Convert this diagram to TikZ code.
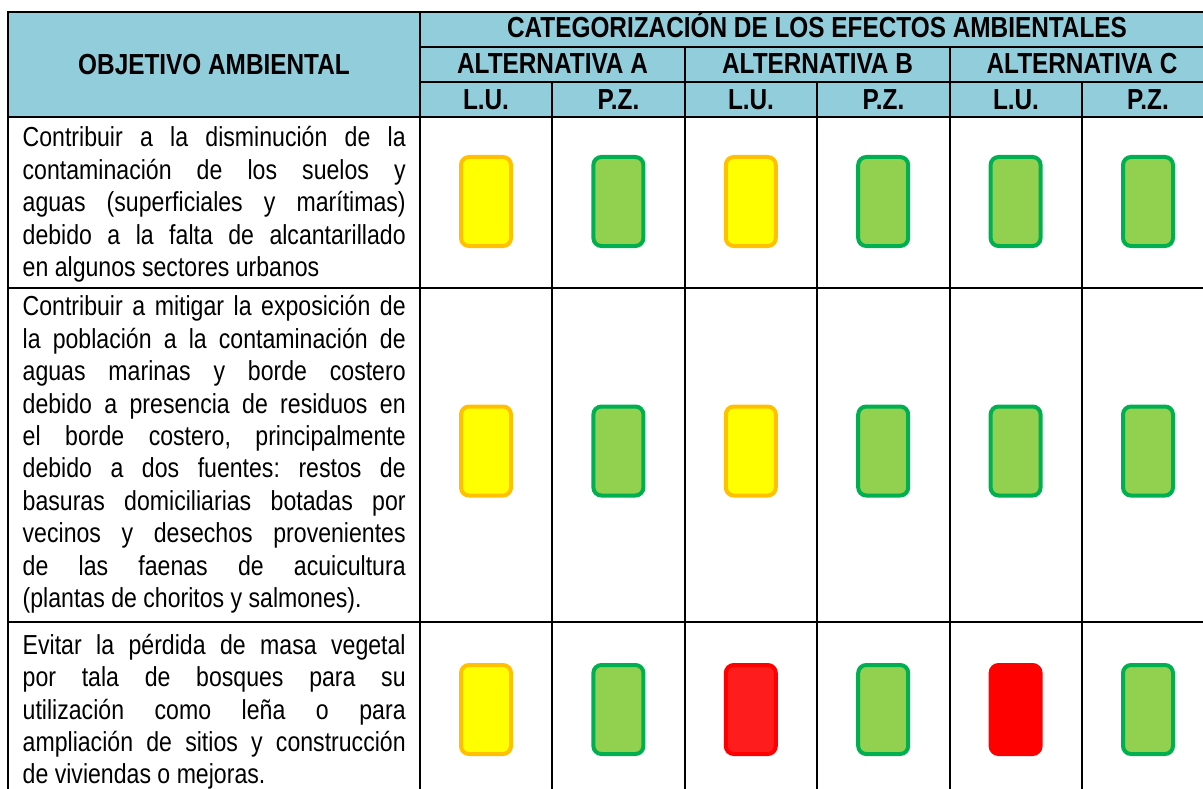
\documentclass[tikz,border=0pt]{standalone}
\usepackage{fontspec}
\setmainfont{Liberation Sans}[FakeStretch=0.84]
\frenchspacing

\definecolor{celeste}{RGB}{146,205,220}
\definecolor{amarillofill}{RGB}{255,255,0}
\definecolor{amarilloborde}{RGB}{255,192,0}
\definecolor{verdefill}{RGB}{146,208,80}
\definecolor{verdeborde}{RGB}{0,176,80}
\definecolor{rojofill}{RGB}{255,28,28}
\definecolor{rojoborde}{RGB}{255,0,0}

\newlength\objw \setlength\objw{383pt}
\newcommand{\jl}[1]{\makebox[\objw][s]{\strut #1}\\}	%justified line
\newcommand{\ul}[1]{\makebox[\objw][l]{\strut #1}}		%last line of a cell

\begin{document}
\begin{tikzpicture}[x=1pt,y=-1pt,
	linea/.style={line width=2pt,black,line cap=rect},
	luz/.style={rectangle,rounded corners=8pt,minimum width=50pt,minimum height=89pt,line width=4pt,inner sep=0pt},
	amarillo/.style={luz,fill=amarillofill,draw=amarilloborde},
	verde/.style={luz,fill=verdefill,draw=verdeborde},
	rojo/.style={luz,fill=rojofill,draw=rojoborde},
	rojoC/.style={luz,fill=rojoborde,draw=rojoborde},
	titulo/.style={font=\bfseries\fontsize{29}{30}\selectfont,inner sep=0pt,anchor=base},
	texto/.style={font=\fontsize{27.5}{32.4}\selectfont,inner sep=0pt,align=left,anchor=north west}]
	\useasboundingbox (0,0) rectangle (1203,789);
	\clip (0,0) rectangle (1203,789);
	
	%header background
	\fill[celeste] (8,12) rectangle (1214,117);
	
	%lines
	\foreach \y in {12,117,288,621.5,792.5}
	\draw[linea] (8,\y) -- (1214,\y);			%full rows
	\foreach \y in {47.5,82}
	\draw[linea] (420,\y) -- (1214,\y);			%header rows right part
	\foreach \x in {8,420,1214}
	\draw[linea] (\x,12) -- (\x,792.5);			%outer + objective column
	\foreach \x in {685,950}
	\draw[linea] (\x,47.5) -- (\x,792.5);		%alternatives
	\foreach \x in {552,817,1082}
	\draw[linea] (\x,82) -- (\x,792.5);			%L.U. / P.Z.
	
	%header labels
	\node[titulo] (objetivo) at (214,74.2) {OBJETIVO AMBIENTAL};
	\node[titulo] (categ) at (817,38) {CATEGORIZACIÓN DE LOS EFECTOS AMBIENTALES};
	\node[titulo] (altA) at (552.5,74) {ALTERNATIVA A};
	\node[titulo] (altB) at (817.5,74) {ALTERNATIVA B};
	\node[titulo] (altC) at (1082,74) {ALTERNATIVA C};
	\foreach \t/\x [count=\i] in {L.U./486,P.Z./618.5,L.U./751,P.Z./883.5,L.U./1016,P.Z./1148}
	\node[titulo] (sub\i) at (\x,109.3) {\t};
	
	%objectives
	\node[texto] (obj1) at (22.5,124) {\jl{Contribuir a la disminución de la}\jl{contaminación de los suelos y}\jl{aguas (superficiales y marítimas)}\jl{debido a la falta de alcantarillado}\ul{en algunos sectores urbanos}};
	\node[texto] (obj2) at (22.5,293) {\jl{Contribuir a mitigar la exposición de}\jl{la población a la contaminación de}\jl{aguas marinas y borde costero}\jl{debido a presencia de residuos en}\jl{el borde costero, principalmente}\jl{debido a dos fuentes: restos de}\jl{basuras domiciliarias botadas por}\jl{vecinos y desechos provenientes}\jl{de las faenas de acuicultura}\ul{(plantas de choritos y salmones).}};
	\node[texto] (obj3) at (22.5,631.5) {\jl{Evitar la pérdida de masa vegetal}\jl{por tala de bosques para su}\jl{utilización como leña o para}\jl{ampliación de sitios y construcción}\ul{de viviendas o mejoras.}};
	
	%lights
	\foreach \st [count=\i] in {amarillo,verde,amarillo,verde,verde,verde}
	\node[\st] (fa\i) at (486+132.4*\i-132.4,201.5) {};		%row 1
	\foreach \st [count=\i] in {amarillo,verde,amarillo,verde,verde,verde}
	\node[\st] (fb\i) at (486+132.4*\i-132.4,451) {};		%row 2
	\foreach \st [count=\i] in {amarillo,verde,rojo,verde,rojoC,verde}
	\node[\st] (fc\i) at (486+132.4*\i-132.4,709.5) {};		%row 3
\end{tikzpicture}
\end{document}
